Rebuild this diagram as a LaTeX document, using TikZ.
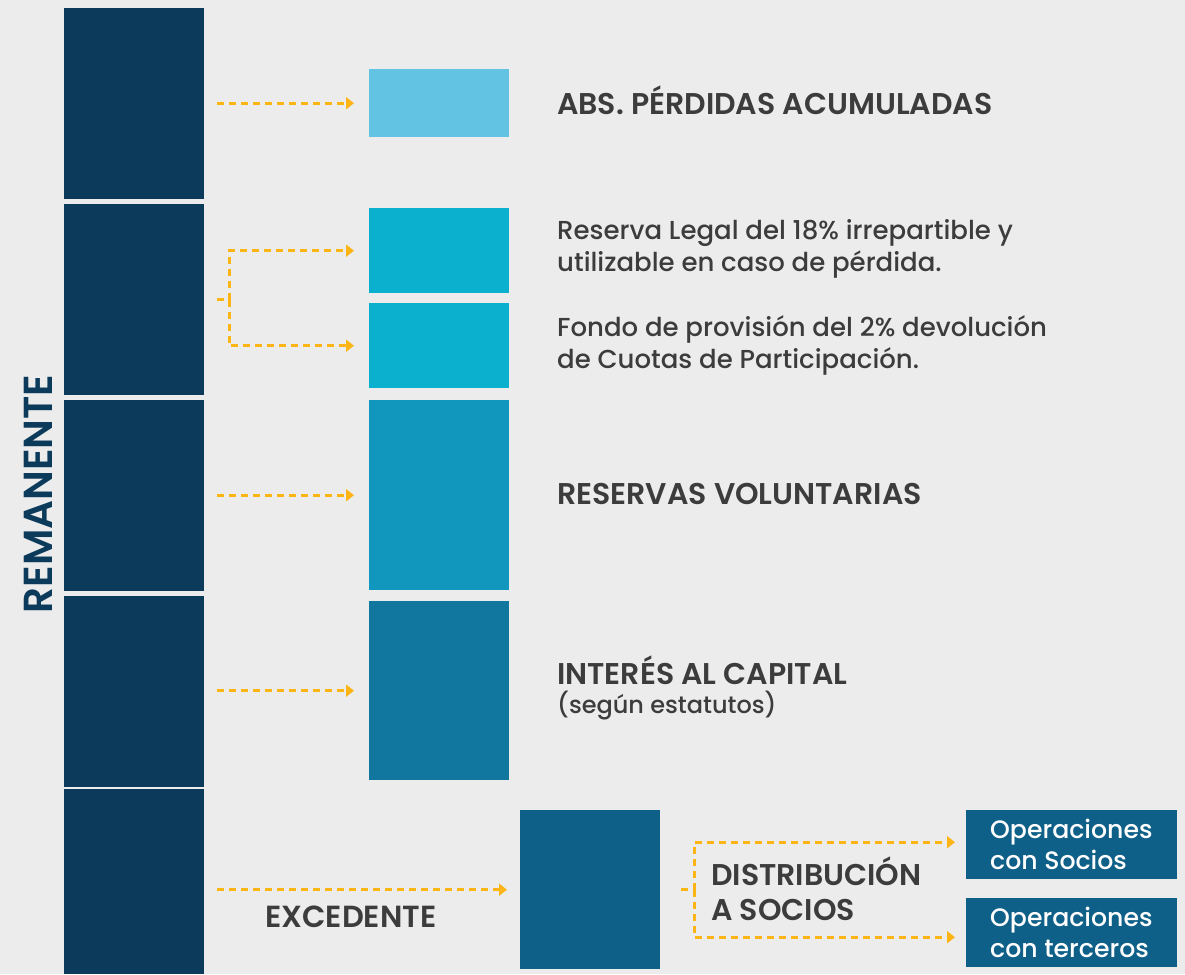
\documentclass[tikz,border=0pt]{standalone}
\usepackage{fontspec}
\setmainfont{Poppins}[UprightFont=* Medium, BoldFont=* SemiBold]
\usetikzlibrary{arrows.meta}
\definecolor{bg}{HTML}{ECECEC}
\definecolor{navy}{HTML}{0B3A5B}
\definecolor{c1}{HTML}{62C4E2}
\definecolor{c2}{HTML}{0BB0CE}
\definecolor{c3}{HTML}{1196BD}
\definecolor{c4}{HTML}{11779E}
\definecolor{c5}{HTML}{0F6088}
\definecolor{org}{HTML}{FDB515}
\definecolor{txt}{HTML}{3C3C3C}
\tikzset{
  bar/.style={fill=navy, draw=none, inner sep=0pt, anchor=north west, minimum width=140pt},
  blk/.style={draw=none, inner sep=0pt, anchor=north west},
  arr/.style={draw=org, line width=2.6pt, dash pattern=on 7pt off 5pt, -{Triangle[length=8pt,width=12pt]}},
  dsh/.style={draw=org, line width=2.6pt, dash pattern=on 7pt off 5pt},
  head/.style={anchor=west, inner sep=0pt, text=txt, font=\fontsize{30}{35}\selectfont\bfseries},
  body/.style={anchor=west, inner sep=0pt, text=txt, align=left, font=\fontsize{26}{32}\selectfont},
  wtxt/.style={anchor=west, inner sep=0pt, text=white, align=left, font=\fontsize{25.2}{31}\selectfont},
}
\begin{document}
\begin{tikzpicture}[x=1pt,y=-1pt]
\fill[bg] (0,0) rectangle (1185,974);
\useasboundingbox (0,0) rectangle (1185,974);
% left bars
\node[bar, minimum height=191pt] (l1) at (64,8) {};
\node[bar, minimum height=191pt] (l2) at (64,204) {};
\node[bar, minimum height=191pt] (l3) at (64,400) {};
\node[bar, minimum height=191pt] (l4) at (64,596) {};
\node[bar, minimum height=185pt] (l5) at (64,789) {};
% right blocks
\node[blk, fill=c1, minimum width=140pt, minimum height=68pt] (b1) at (369,69) {};
\node[blk, fill=c2, minimum width=140pt, minimum height=85pt] (b2) at (369,208) {};
\node[blk, fill=c2, minimum width=140pt, minimum height=85pt] (b3) at (369,303) {};
\node[blk, fill=c3, minimum width=140pt, minimum height=190pt] (b4) at (369,400) {};
\node[blk, fill=c4, minimum width=140pt, minimum height=179pt] (b5) at (369,601) {};
\node[blk, fill=c5, minimum width=140pt, minimum height=159pt] (b6) at (520,810) {};
\node[blk, fill=c5, minimum width=211pt, minimum height=69pt] (o1) at (966,810) {};
\node[blk, fill=c5, minimum width=211pt, minimum height=69pt] (o2) at (966,898) {};
% label
\node[rotate=90, inner sep=0pt, text=navy, font=\fontsize{40.5}{44}\selectfont\bfseries] (rem) at (38,494) {REMANENTE};
% texts
\node[head] (t1) at (557,100.5) {ABS. PÉRDIDAS ACUMULADAS};
\node[body] (t2) at (557,249) {Reserva Legal del 18\% irrepartible y\\utilizable en caso de pérdida.};
\node[body] (t3) at (557,345.5) {Fondo de provisión del 2\% devolución\\de Cuotas de Participación.};
\node[head] (t4) at (557,494) {RESERVAS VOLUNTARIAS};
\node[head] (t5) at (557,670) {INTERÉS AL CAPITAL};
\node[body, font=\fontsize{24}{28}\selectfont] (t5b) at (557,706) {(según estatutos)};
\node[head, font=\fontsize{30.5}{35}\selectfont\bfseries] (t6) at (265,917) {EXCEDENTE};
\node[head, align=left, font=\fontsize{30}{35}\selectfont\bfseries] (t7) at (711,889) {DISTRIBUCIÓN\\A SOCIOS};
\node[wtxt] (ot1) at ([xshift=24pt]o1.west) {Operaciones\\con Socios};
\node[wtxt] (ot2) at ([xshift=24pt]o2.west) {Operaciones\\con terceros};
% arrows
\draw[arr] ([xshift=13pt]l1.east |- b1.west) -- ([xshift=-15pt]b1.west);
\coordinate (j2) at ([xshift=25pt]l2.east);
\draw[dsh] ([xshift=13pt]l2.east) -- (j2);
\draw[arr] (j2) |- ([xshift=-15pt]b2.west);
\draw[arr] (j2) |- ([xshift=-15pt]b3.west);
\draw[arr] ([xshift=13pt]l3.east |- b4.west) -- ([xshift=-15pt]b4.west);
\draw[arr] ([xshift=13pt]l4.east |- b5.west) -- ([xshift=-15pt]b5.west);
\draw[arr] ([xshift=13pt]l5.east |- b6.west) -- ([xshift=-13pt]b6.west);
\coordinate (j6) at ([xshift=34pt]b6.east);
\draw[dsh] ([xshift=21pt]b6.east) -- (j6);
\draw[arr] (j6) |- ([xshift=-11pt,yshift=2.5pt]o1.west);
\draw[arr] (j6) |- ([xshift=-11pt,yshift=-4.5pt]o2.west);
\end{tikzpicture}
\end{document}
